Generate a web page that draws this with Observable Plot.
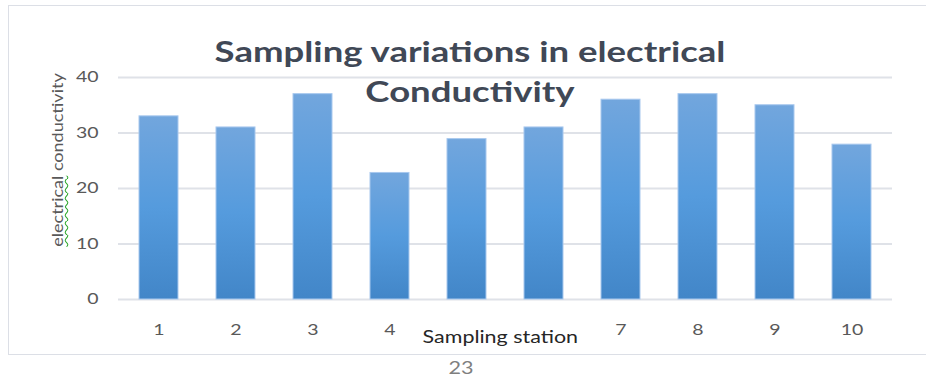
<!DOCTYPE html>
<html>
<head>
<meta charset="utf-8">
<script src="https://cdn.jsdelivr.net/npm/d3@7"></script>
<script src="https://cdn.jsdelivr.net/npm/@observablehq/plot@0.6"></script>
<style>
  html, body { margin: 0; padding: 0; background: #fff; }
  #wrap { position: relative; width: 926px; height: 380px; overflow: hidden; font-family: Lato, "Open Sans", sans-serif; }
  #frame { position: absolute; left: 8px; top: 5px; width: 940px; height: 350px; border: 1.5px solid #dcdfe6; box-sizing: border-box; }
  #title { position: absolute; left: 0; width: 940px; top: 31px; text-align: center; font-weight: 700; font-size: 29px; line-height: 40px; color: #404856; transform: scaleX(1.26); transform-origin: 470px 0; }
  #ylabel { position: absolute; left: 57px; top: 160px; transform: translate(-50%, -50%) rotate(-90deg) scaleX(1.2); white-space: nowrap; font-size: 15px; color: #595959; }
  #ylabel .sq { text-decoration: underline wavy #2ea82e; text-decoration-thickness: 1px; }
  #xlabel { position: absolute; left: 420px; top: 327px; font-size: 16.5px; color: #262626; background: #fff; padding: 0 2px; transform: scaleX(1.3); transform-origin: 0 0; }
  #page { position: absolute; left: 0; width: 922px; top: 356px; text-align: center; font-size: 18px; color: #7f7f7f; transform: scaleX(1.2); transform-origin: 461px 0; }
  #chart { position: absolute; left: 0; top: 0; }
</style>
</head>
<body>
<div id="wrap">
  <div id="frame"></div>
  <div id="chart"></div>
  <div id="title">Sampling variations in electrical<br>Conductivity</div>
  <div id="ylabel"><span class="sq">electrical</span> conductivity</div>
  <div id="xlabel">Sampling station</div>
  <div id="page">23</div>
</div>
<script>
const stations = [1, 2, 3, 4, 5, 6, 7, 8, 9, 10];
const conductivity = [33, 31, 37, 22.8, 28.9, 31, 36, 37, 35, 27.9];
const yTicks = [0, 10, 20, 30, 40];
const xTickLabels = [1, 2, 3, 4, 7, 8, 9, 10];

const data = stations.map((s, i) => ({station: s, value: conductivity[i]}));

const defs = () => {
  const d = d3.create("svg:defs");
  const g = d.append("linearGradient").attr("id", "barGrad")
    .attr("x1", 0).attr("y1", 0).attr("x2", 0).attr("y2", 1);
  g.append("stop").attr("offset", "0%").attr("stop-color", "#72a6dd");
  g.append("stop").attr("offset", "50%").attr("stop-color", "#559bdd");
  g.append("stop").attr("offset", "100%").attr("stop-color", "#4286c8");
  return d.node();
};

const chart = Plot.plot({
  width: 926,
  height: 380,
  marginLeft: 118,
  marginRight: 34,
  marginTop: 77,
  marginBottom: 81,
  style: {fontFamily: "Lato, 'Open Sans', sans-serif", background: "transparent", overflow: "visible"},
  x: {type: "band", domain: stations, paddingInner: 0.5, paddingOuter: 0.25, axis: null},
  y: {domain: [0, 40], axis: null},
  marks: [
    defs,
    Plot.gridY(yTicks, {stroke: "#dfe2e8", strokeOpacity: 1, strokeWidth: 2}),
    Plot.barY(data, {x: "station", y: "value", fill: "url(#barGrad)", stroke: "#a8c8ee", strokeWidth: 1}),
    Plot.axisY(yTicks, {tickSize: 0, tickPadding: 20, fontSize: 15, fill: "#595959", label: null}),
    Plot.axisX(xTickLabels, {tickSize: 0, tickPadding: 25, fontSize: 15, fill: "#595959", label: null})
  ]
});
document.getElementById("chart").appendChild(chart);
// widen tick label glyphs to match the stretched look of the reference
chart.querySelectorAll("text").forEach(t => {
  const len = t.getComputedTextLength();
  if (len > 0) {
    t.setAttribute("textLength", (len * 1.3).toFixed(1));
    t.setAttribute("lengthAdjust", "spacingAndGlyphs");
  }
});
</script>
</body>
</html>
